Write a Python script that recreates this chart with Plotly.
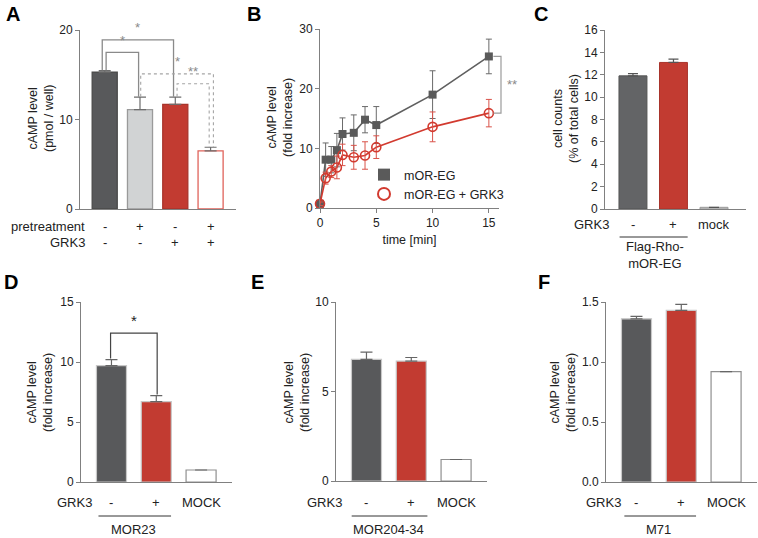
import plotly.graph_objects as go

W, H = 758, 538
FONT = "Liberation Sans, Arial, Helvetica, sans-serif"

# ---------------- DATA ----------------
# Panel A
a_pretreat = ["-", "+", "-", "+"]
a_grk3 = ["-", "-", "+", "+"]
a_values = [15.3, 11.1, 11.7, 6.5]
a_errors = [0.15, 1.4, 0.8, 0.4]

# Panel B
b_time = [0, 0.5, 1, 1.5, 2, 3, 4, 5, 10, 15]
b_moreg = [0.7, 8.1, 8.1, 9.7, 12.4, 12.6, 14.8, 13.9, 19.0, 25.4]
b_moreg_err = [0.3, 2.8, 2.2, 2.8, 2.7, 3.0, 2.2, 3.1, 4.0, 2.9]
b_grk3 = [0.7, 5.0, 6.1, 6.8, 8.9, 8.5, 8.8, 10.2, 13.6, 15.9]
b_grk3_err = [0.3, 1.0, 1.0, 1.9, 1.8, 2.0, 2.3, 1.9, 2.5, 2.3]

# Panel C
c_labels = ["-", "+", "mock"]
c_values = [11.9, 13.1, 0.15]
c_errors = [0.2, 0.3, None]

# Panels D, E, F
def_labels = ["-", "+", "MOCK"]
d_values = [9.7, 6.7, 1.0]
d_errors = [0.5, 0.5, None]
e_values = [6.8, 6.7, 1.2]
e_errors = [0.4, 0.2, None]
f_values = [1.36, 1.43, 0.92]
f_errors = [0.02, 0.05, None]

# ---------------- STYLE ----------------
DARK = "#58595b"
LIGHT = "#d1d3d4"
RED = "#c23b31"
AXC = "#808080"
TXT = "#222222"


def px_x(p):
    return p / W


def px_y(p):
    return 1 - p / H


def top(v, e):
    return v + (e or 0)


fig = go.Figure()
layout = dict(
    width=W, height=H, margin=dict(l=0, r=0, t=0, b=0, pad=0, autoexpand=False),
    paper_bgcolor="white", plot_bgcolor="white",
    font=dict(family=FONT, size=12, color=TXT),
    showlegend=True,
)
annotations = []
shapes = []


def add_axes(idx, xdom, ydom, xrange, yrange, ytickvals, ytext=None, xticks=False, xtickvals=None):
    sx = "" if idx == 1 else str(idx)
    layout["xaxis" + sx] = dict(
        domain=[px_x(xdom[0]), px_x(xdom[1])], range=xrange, automargin=False,
        anchor="y" + sx, showgrid=False, zeroline=False, showline=True,
        linecolor=AXC, linewidth=1, fixedrange=True,
        ticks="outside" if xticks else "", ticklen=4, tickcolor=AXC,
        showticklabels=xticks, tickvals=xtickvals,
        tickfont=dict(size=12, color=TXT),
    )
    layout["yaxis" + sx] = dict(
        domain=[px_y(ydom[0]), px_y(ydom[1])], range=yrange, automargin=False,
        anchor="x" + sx, showgrid=False, zeroline=False, showline=True,
        linecolor=AXC, linewidth=1, ticks="outside", ticklen=4, tickcolor=AXC,
        tickvals=ytickvals, ticktext=ytext, tickfont=dict(size=12, color=TXT),
        fixedrange=True,
    )


def ytitle(text, xc, yc):
    annotations.append(dict(text=text, x=px_x(xc), y=px_y(yc), xref="paper", yref="paper",
                            textangle=-90, showarrow=False, font=dict(size=12.5, color=TXT),
                            xanchor="center", yanchor="middle"))


def letter(text, x, y):
    annotations.append(dict(text="<b>%s</b>" % text, x=px_x(x), y=px_y(y), xref="paper", yref="paper",
                            showarrow=False, font=dict(size=20, color="black", family=FONT),
                            xanchor="left", yanchor="middle"))


def label(text, xd, xref, ypx, anchor="center", size=13):
    annotations.append(dict(text=text, x=xd, y=px_y(ypx), xref=xref, yref="paper",
                            showarrow=False, font=dict(size=size, color=TXT),
                            xanchor=anchor, yanchor="middle"))


# ---------------- Panel A ----------------
ax = [0, 1, 2, 3]
add_axes(1, (80, 236), (209, 30), [-0.7, 3.72], [0, 20], [0, 10, 20])
fig.add_trace(go.Bar(
    x=ax, y=a_values, width=0.71, xaxis="x", yaxis="y", showlegend=False,
    marker=dict(color=[DARK, LIGHT, RED, "white"],
                line=dict(color=["#4a4a4a", "#9a9a9a", "#a8342b", "#e0635b"], width=1.3)),
    error_y=dict(type="data", array=a_errors, arrayminus=[0] * 4, symmetric=False,
                 color="#6d6d6d", thickness=1.2, width=6),
))
ytitle("cAMP level<br>(pmol / well)", 41, 119)
letter("A", 4, 14)
annotations.append(dict(text="pretreatment", x=px_x(87), y=px_y(226), xref="paper", yref="paper",
                        showarrow=False, font=dict(size=13, color=TXT), xanchor="right", yanchor="middle"))
annotations.append(dict(text="GRK3", x=px_x(87), y=px_y(242), xref="paper", yref="paper",
                        showarrow=False, font=dict(size=13, color=TXT), xanchor="right", yanchor="middle"))
for i in range(4):
    label(a_pretreat[i], ax[i], "x", 226)
    label(a_grk3[i], ax[i], "x", 242)

a_tops = [top(v, e) for v, e in zip(a_values, a_errors)]
# brackets: (left bar, right bar, level, text, dotted, x offsets)
a_brackets = [
    (0, 2, 18.9, "*", False, -0.07, -0.05),
    (0, 1, 17.5, "*", False, 0.04, -0.04),
    (1, 3, 15.1, "*", True, 0.02, 0.08),
    (2, 3, 14.0, "**", True, 0.05, -0.04),
]
for l, r, lev, txt, dot, ol, orr in a_brackets:
    x0 = ax[l] + ol
    x1 = ax[r] + orr
    col = "#a5a5a5" if dot else "#8a8a8a"
    dash = "dot" if dot else "solid"
    shapes.append(dict(type="path", xref="x", yref="y",
                       path="M %f %f L %f %f L %f %f L %f %f" % (x0, a_tops[l] + 0.05, x0, lev, x1, lev, x1, a_tops[r] + 0.05),
                       line=dict(color=col, width=1.1 if dot else 1.3, dash=dash)))
    annotations.append(dict(text=txt, x=(x0 + x1) / 2, y=lev + 0.3, xref="x", yref="y", showarrow=False,
                            font=dict(size=13, color="#8a8a8a"), xanchor="center", yanchor="bottom"))

# ---------------- Panel B ----------------
add_axes(2, (320, 499), (208, 29), [0, 15.9], [0, 30], [0, 10, 20, 30],
         xticks=True, xtickvals=[0, 5, 10, 15])
layout["xaxis2"]["title"] = dict(text="time [min]", font=dict(size=12.5, color=TXT), standoff=5)
fig.add_trace(go.Scatter(x=b_time, y=b_moreg, mode="lines", xaxis="x2", yaxis="y2", showlegend=False,
                         line=dict(color="#5f5f5f", width=1.6), cliponaxis=False, hoverinfo="skip"))
fig.add_trace(go.Scatter(x=b_time, y=b_moreg, mode="markers", xaxis="x2", yaxis="y2", name="mOR-EG",
                         marker=dict(symbol="square", size=8, color="#5a5a5a"), cliponaxis=False,
                         error_y=dict(type="data", array=b_moreg_err, color="#6a6a6a", thickness=1, width=3)))
fig.add_trace(go.Scatter(x=b_time, y=b_grk3, mode="lines", xaxis="x2", yaxis="y2", showlegend=False,
                         line=dict(color="#d23a2f", width=1.6), cliponaxis=False, hoverinfo="skip"))
fig.add_trace(go.Scatter(x=b_time, y=b_grk3, mode="markers", xaxis="x2", yaxis="y2", name="mOR-EG + GRK3",
                         marker=dict(symbol="circle-open", size=9, color="#d23a2f", line=dict(width=1.6)),
                         cliponaxis=False,
                         error_y=dict(type="data", array=b_grk3_err, color="#d9534a", thickness=1, width=3)))
ytitle("cAMP level<br>(fold increase)", 280, 118)
letter("B", 245, 14)
# significance bracket at t=15
xdom_end = 1.0 + 2 / (499 - 320)
shapes.append(dict(type="path", xref="x2 domain", yref="y2",
                   path="M %f %f L %f %f L %f %f L %f %f" % (
                       (15.4 / 15.9), b_moreg[-1], xdom_end, b_moreg[-1], xdom_end, b_grk3[-1], (15.4 / 15.9), b_grk3[-1]),
                   line=dict(color="#9b9b9b", width=1.2)))
annotations.append(dict(text="**", x=xdom_end, y=(b_moreg[-1] + b_grk3[-1]) / 2, xref="x2 domain", yref="y2",
                        xshift=4, showarrow=False, font=dict(size=13, color="#8a8a8a"),
                        xanchor="left", yanchor="middle"))
layout["legend"] = dict(x=px_x(364), y=px_y(160), xanchor="left", yanchor="top",
                        bgcolor="rgba(0,0,0,0)", font=dict(size=12.5, color=TXT),
                        tracegroupgap=0, itemsizing="constant")

# ---------------- Panel C ----------------
cx = [0, 1, 2]
add_axes(3, (605, 746), (209, 30), [-0.69, 2.79], [0, 16], list(range(0, 17, 2)))
fig.add_trace(go.Bar(
    x=cx, y=c_values, width=0.69, xaxis="x3", yaxis="y3", showlegend=False,
    marker=dict(color=["#636466", RED, "#c9c9c9"], line=dict(color=["#555", "#a8342b", "#999"], width=1)),
    error_y=dict(type="data", array=c_errors, arrayminus=[0] * 3, symmetric=False,
                 color="#555", thickness=1.2, width=5),
))
ytitle("cell counts<br>(% of total cells)", 566, 119)
letter("C", 532, 14)
annotations.append(dict(text="GRK3", x=px_x(611), y=px_y(225), xref="paper", yref="paper",
                        showarrow=False, font=dict(size=13, color=TXT), xanchor="right", yanchor="middle"))
for i in range(3):
    label(c_labels[i], cx[i], "x3", 225)
shapes.append(dict(type="line", xref="x3", yref="paper", x0=-0.33, x1=1.35, y0=px_y(237), y1=px_y(237),
                   line=dict(color="#333", width=1)))
label("Flag-Rho-<br>mOR-EG", 0.55, "x3", 255)


# ---------------- Panels D, E, F ----------------
def small_panel(idx, xdom, ydom, yrange, yticks, ytext, values, errors, name, title_x, letter_txt, letter_x,
                grk_right, line_x):
    sx = str(idx)
    px = [0, 1, 2]
    add_axes(idx, xdom, ydom, [-0.68, 2.69], yrange, yticks, ytext)
    fig.add_trace(go.Bar(
        x=px, y=values, width=0.67, xaxis="x" + sx, yaxis="y" + sx, showlegend=False,
        marker=dict(color=[DARK, RED, "white"], line=dict(color=["#c8c8c8", "#c8c8c8", "#8f8f8f"], width=1.2)),
        error_y=dict(type="data", array=errors, arrayminus=[0] * 3, symmetric=False,
                     color="#666", thickness=1.2, width=6),
    ))
    ytitle("cAMP level<br>(fold increase)", title_x, 393)
    letter(letter_txt, letter_x, 282)
    annotations.append(dict(text="GRK3", x=px_x(grk_right), y=px_y(502), xref="paper", yref="paper",
                            showarrow=False, font=dict(size=13, color=TXT), xanchor="right", yanchor="middle"))
    for i in range(3):
        label(def_labels[i], px[i], "x" + sx, 502)
    shapes.append(dict(type="line", xref="x" + sx, yref="paper", x0=line_x[0], x1=line_x[1],
                       y0=px_y(516), y1=px_y(516), line=dict(color="#333", width=1)))
    label(name, 0.5, "x" + sx, 529)


small_panel(4, (81, 232), (482, 302), [0, 15], [0, 5, 10, 15], None, d_values, d_errors,
            "MOR23", 40, "D", 2, 94, (-0.29, 1.33))
small_panel(5, (336, 487), (481, 302), [0, 10], [0, 5, 10], None, e_values, e_errors,
            "MOR204-34", 297, "E", 249, 344, (-0.33, 1.36))
small_panel(6, (606, 757), (482, 302), [0, 1.5], [0, 0.5, 1.0, 1.5], ["0.0", "0.5", "1.0", "1.5"],
            f_values, f_errors, "M71", 563, "F", 536, 623, (-0.27, 1.33))

# D significance bracket
d_tops = [top(v, e) for v, e in zip(d_values, d_errors)]
d_level = 12.4
shapes.append(dict(type="path", xref="x4", yref="y4",
                   path="M %f %f L %f %f L %f %f L %f %f" % (-0.02, d_tops[0] + 0.1, -0.02, d_level, 1.02, d_level, 1.02, d_tops[1] + 0.1),
                   line=dict(color="#444", width=1.2)))
annotations.append(dict(text="*", x=0.5, y=d_level + 0.2, xref="x4", yref="y4", showarrow=False,
                        font=dict(size=15, color="#222"), xanchor="center", yanchor="bottom"))

layout["annotations"] = annotations
layout["shapes"] = shapes
fig.update_layout(**layout)
fig.write_html("out.html", config={"displayModeBar": False},
               post_script="document.body.style.margin='0';document.body.style.overflow='hidden';")
